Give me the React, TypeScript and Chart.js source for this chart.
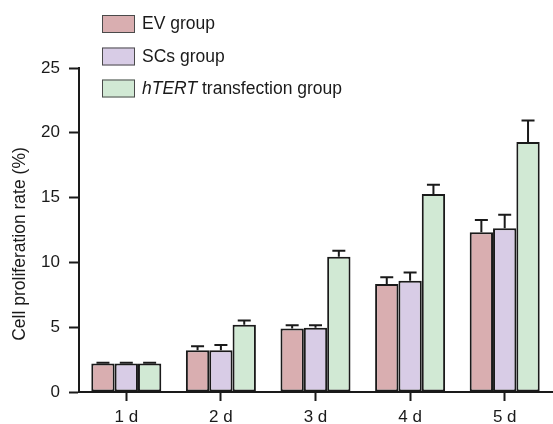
import React, { useEffect, useRef } from "react";
import { Chart, registerables } from "chart.js";

Chart.register(...registerables);

const categories = ["1 d", "2 d", "3 d", "4 d", "5 d"];
const seriesNames = ["EV group", "SCs group", "hTERT transfection group"];
const italicPrefixes = ["", "", "hTERT"];
const evValues = [2.2, 3.22, 4.9, 8.33, 12.33];
const evErrors = [0.06, 0.31, 0.26, 0.52, 0.95];
const scValues = [2.2, 3.22, 4.95, 8.58, 12.64];
const scErrors = [0.06, 0.41, 0.21, 0.65, 1.03];
const htValues = [2.2, 5.18, 10.44, 15.27, 19.29];
const htErrors = [0.06, 0.34, 0.46, 0.72, 1.65];
const seriesColors = ["#d9aeb0", "#d8cce6", "#d1e9d4"];
const yMin = 0;
const yMax = 25;
const yStep = 5;
const yTitle = "Cell proliferation rate (%)";

const FONT = '"Liberation Sans", Arial, Helvetica, sans-serif';
const INK = "#1a1a1a";

const seriesValues = [evValues, scValues, htValues];
const seriesErrors = [evErrors, scErrors, htErrors];

const errorBarPlugin = {
  id: "errorBars",
  afterDatasetsDraw(chart: any) {
    const ctx = chart.ctx;
    const yScale = chart.scales.y;
    ctx.save();
    ctx.strokeStyle = INK;
    ctx.lineWidth = 2;
    chart.data.datasets.forEach((ds: any, i: number) => {
      const meta = chart.getDatasetMeta(i);
      meta.data.forEach((bar: any, j: number) => {
        const v = seriesValues[i][j];
        const e = seriesErrors[i][j];
        const x = bar.x;
        const y0 = yScale.getPixelForValue(v);
        const y1 = yScale.getPixelForValue(v + e);
        ctx.beginPath();
        ctx.moveTo(x, y0);
        ctx.lineTo(x, y1);
        ctx.moveTo(x - 6.5, y1);
        ctx.lineTo(x + 6.5, y1);
        ctx.stroke();
      });
    });
    ctx.restore();
  },
};

const legendTitlePlugin = {
  id: "legendTitle",
  afterDraw(chart: any) {
    const ctx = chart.ctx;
    ctx.save();
    // legend
    const boxX = 102;
    const boxW = 33;
    const boxH = 18;
    const tops = [15, 47.5, 79.5];
    seriesNames.forEach((name, i) => {
      const top = tops[i];
      ctx.fillStyle = seriesColors[i];
      ctx.fillRect(boxX, top, boxW, boxH);
      ctx.strokeStyle = "#4a4a4a";
      ctx.lineWidth = 1;
      ctx.strokeRect(boxX + 0.5, top + 0.5, boxW - 1, boxH - 1);
      ctx.fillStyle = INK;
      ctx.textBaseline = "middle";
      ctx.textAlign = "left";
      let x = 142;
      const cy = top + boxH / 2 + 0.5;
      const pre = italicPrefixes[i];
      let rest = name;
      if (pre && name.startsWith(pre)) {
        ctx.font = `italic 17.5px ${FONT}`;
        ctx.fillText(pre, x, cy);
        x += ctx.measureText(pre).width;
        rest = name.slice(pre.length);
      }
      ctx.font = `17.5px ${FONT}`;
      ctx.fillText(rest, x, cy);
    });
    // y title
    ctx.translate(20, 244);
    ctx.rotate(-Math.PI / 2);
    ctx.font = `17.5px ${FONT}`;
    ctx.fillStyle = INK;
    ctx.textAlign = "center";
    ctx.textBaseline = "middle";
    ctx.fillText(yTitle, 0, 0);
    ctx.restore();
  },
};

export default function App() {
  const ref = useRef<HTMLCanvasElement>(null);
  useEffect(() => {
    if (!ref.current) return;
    const chart = new Chart(ref.current, {
      type: "bar",
      data: {
        labels: categories,
        datasets: seriesNames.map((name, i) => ({
          label: name,
          data: seriesValues[i],
          backgroundColor: seriesColors[i],
          borderColor: INK,
          borderWidth: 2,
          borderSkipped: false,
          categoryPercentage: 0.74,
          barPercentage: 1.0,
        })),
      },
      options: {
        responsive: false,
        animation: false,
        layout: { padding: { top: 68, right: 1, left: 0, bottom: 0 } },
        plugins: {
          legend: { display: false },
          tooltip: { enabled: false },
          title: { display: false },
        },
        scales: {
          x: {
            type: "category",
            offset: true,
            grid: {
              display: true,
              offset: false,
              drawOnChartArea: false,
              drawTicks: true,
              tickLength: 9,
              tickWidth: 2,
              tickColor: INK,
            },
            border: { display: true, color: INK, width: 2 },
            ticks: {
              color: INK,
              font: { family: FONT, size: 17 },
              padding: 6,
            },
            afterFit: (scale: any) => {
              scale.height = 32;
            },
          },
          y: {
            min: yMin,
            max: yMax,
            grid: {
              display: true,
              drawOnChartArea: false,
              drawTicks: true,
              tickLength: 10,
              tickWidth: 2,
              tickColor: INK,
            },
            border: { display: true, color: INK, width: 2 },
            ticks: {
              stepSize: yStep,
              color: INK,
              font: { family: FONT, size: 17 },
              padding: 9,
            },
            afterFit: (scale: any) => {
              scale.width = 79;
            },
          },
        },
      },
      plugins: [errorBarPlugin, legendTitlePlugin],
    });
    return () => chart.destroy();
  }, []);
  return (
    <div style={{ position: "fixed", left: 0, top: 0, width: 553, height: 424, background: "#fff" }}>
      <canvas ref={ref} width={553} height={424} style={{ display: "block" }} />
    </div>
  );
}
